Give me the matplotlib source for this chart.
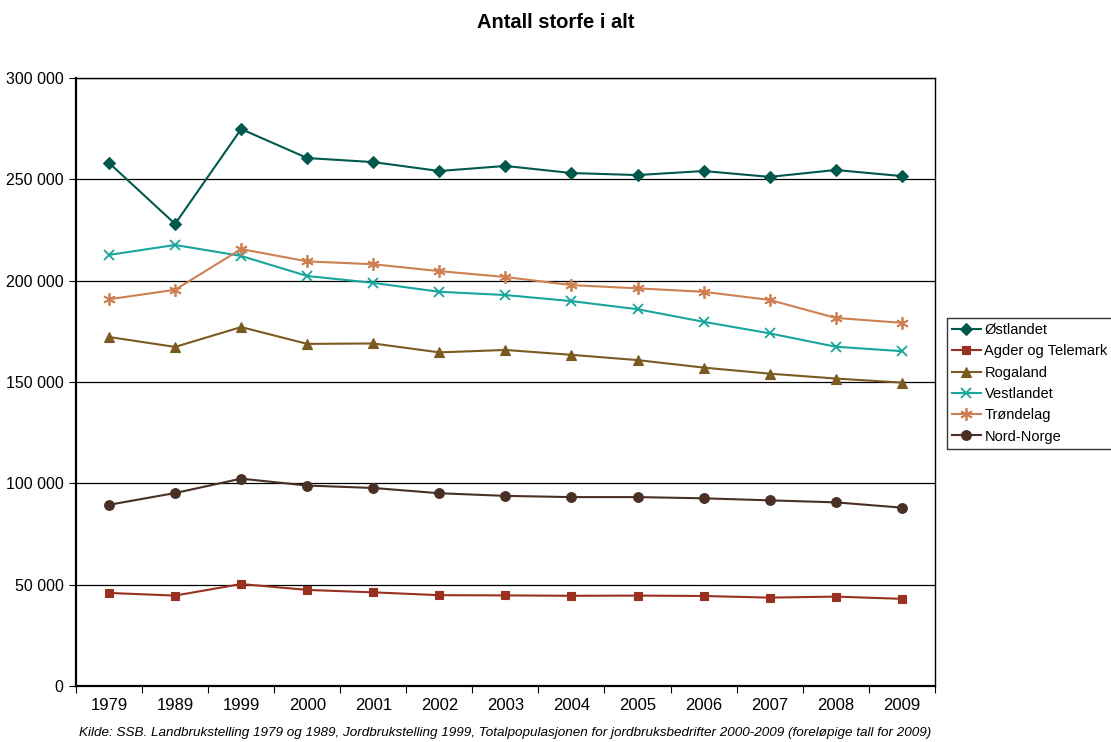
import numpy as np
import matplotlib
matplotlib.use("Agg")
from matplotlib import pyplot as plt
from matplotlib.ticker import FuncFormatter, FixedLocator

plt.rcParams['font.family'] = ['Liberation Sans', 'DejaVu Sans']

years = ['1979', '1989', '1999', '2000', '2001', '2002', '2003',
         '2004', '2005', '2006', '2007', '2008', '2009']

ostlandet = [258100, 228000, 274800, 260500, 258500, 254100, 256600,
             253100, 252100, 254100, 251200, 254600, 251600]
agder = [45900, 44600, 50300, 47400, 46200, 44800, 44700,
         44500, 44600, 44400, 43600, 44100, 43000]
rogaland = [172200, 167300, 177100, 168800, 169000, 164600, 165800,
            163400, 160800, 157100, 154100, 151700, 149700]
vestlandet = [212700, 217600, 212200, 202300, 198900, 194500, 192900,
              189900, 185900, 179700, 174000, 167400, 165200]
trondelag = [190800, 195500, 215600, 209500, 208100, 204700, 201800,
             197800, 196200, 194500, 190500, 181600, 179200]
nord_norge = [89400, 95200, 102300, 98900, 97700, 95100, 93800,
              93200, 93200, 92600, 91600, 90600, 88000]

series = [
    ('Østlandet', ostlandet, '#00594c', 'D', 6),
    ('Agder og Telemark', agder, '#9a3020', 's', 6),
    ('Rogaland', rogaland, '#7a5a20', '^', 7),
    ('Vestlandet', vestlandet, '#17a59c', 'x', 7),
    ('Trøndelag', trondelag, '#cf8052', (6, 2, 0), 9),
    ('Nord-Norge', nord_norge, '#4a2f25', 'o', 7),
]

fig = plt.figure(figsize=(11.11, 7.42), dpi=100)
ax = fig.add_axes([0.0684, 0.0755, 0.773, 0.8194])

x = np.arange(len(years))
for name, vals, col, mk, ms in series:
    ax.plot(x, vals, color=col, marker=mk, markersize=ms, linewidth=1.5,
            markeredgewidth=1.3 if mk in ('x', (6, 2, 0)) else 0.8,
            markeredgecolor=col, markerfacecolor=col, label=name, zorder=3)

ax.set_xlim(-0.5, len(years) - 0.5)
ax.set_ylim(0, 300000)
ax.set_yticks(np.arange(0, 300001, 50000))
ax.yaxis.set_major_formatter(FuncFormatter(lambda v, p: f"{int(v):,}".replace(',', ' ')))
ax.grid(axis='y', color='black', linewidth=0.9)
ax.set_axisbelow(True)

ax.xaxis.set_major_locator(FixedLocator(np.arange(-0.5, len(years), 1.0)))
ax.set_xticklabels([])
ax.set_xticks(x, minor=True)
ax.set_xticklabels(years, minor=True)
ax.tick_params(axis='x', which='major', length=5, direction='out', color='black')
ax.tick_params(axis='x', which='minor', length=0, pad=9, labelsize=12)
ax.tick_params(axis='y', length=5, labelsize=11.5, pad=4)

for s in ax.spines.values():
    s.set_color('black')
    s.set_linewidth(1.0)
ax.spines['left'].set_linewidth(1.6)
ax.spines['bottom'].set_linewidth(1.6)

fig.text(0.5, 0.982, 'Antall storfe i alt', ha='center', va='top',
         fontsize=14.5, fontweight='bold')
fig.text(0.455, 0.004, 'Kilde: SSB. Landbrukstelling 1979 og 1989, Jordbrukstelling 1999, '
         'Totalpopulasjonen for jordbruksbedrifter 2000-2009 (foreløpige tall for 2009)',
         ha='center', va='bottom', fontsize=9.7, style='italic')

leg = fig.legend(loc='upper left', bbox_to_anchor=(0.852, 0.5714), fontsize=10.5,
                 frameon=True, fancybox=False, edgecolor='black', handlelength=2.0,
                 borderpad=0.35, labelspacing=0.5, handletextpad=0.25,
                 borderaxespad=0)
leg.get_frame().set_linewidth(1.0)

fig.savefig('out.png', dpi=100)
